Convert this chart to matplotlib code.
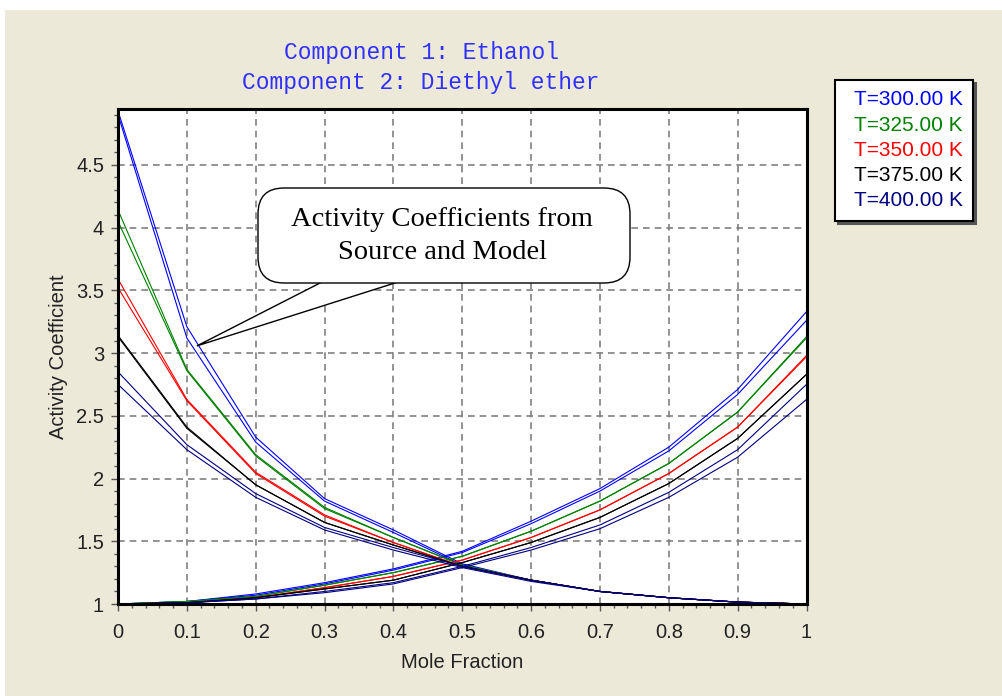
import matplotlib
matplotlib.use("Agg")
import matplotlib.pyplot as plt
from matplotlib.patches import Rectangle, FancyBboxPatch, Polygon
from matplotlib.transforms import IdentityTransform
from matplotlib.ticker import MultipleLocator

# ---------------- data ----------------
x = [0.0, 0.1, 0.2, 0.3, 0.4, 0.5, 0.6, 0.7, 0.8, 0.9, 1.0]
temps = ["T=300.00 K", "T=325.00 K", "T=350.00 K", "T=375.00 K", "T=400.00 K"]
colors = ["#0000ff", "#008000", "#ff0000", "#000000", "#000080"]

# gamma1 (component 1), source data
g1_src = [
    [4.93, 3.21, 2.33, 1.84, 1.59, 1.32, 1.19, 1.10, 1.05, 1.015, 1.0],
    [4.14, 2.87, 2.19, 1.77, 1.53, 1.31, 1.19, 1.10, 1.05, 1.015, 1.0],
    [3.59, 2.63, 2.05, 1.71, 1.49, 1.30, 1.19, 1.10, 1.05, 1.015, 1.0],
    [3.14, 2.41, 1.95, 1.65, 1.47, 1.30, 1.19, 1.10, 1.05, 1.015, 1.0],
    [2.85, 2.27, 1.88, 1.61, 1.45, 1.30, 1.19, 1.10, 1.05, 1.015, 1.0],
]
# gamma1, model
g1_mdl = [
    [4.90, 3.12, 2.29, 1.82, 1.57, 1.31, 1.19, 1.10, 1.05, 1.015, 1.0],
    [4.05, 2.86, 2.18, 1.76, 1.53, 1.31, 1.19, 1.10, 1.05, 1.015, 1.0],
    [3.52, 2.62, 2.04, 1.70, 1.49, 1.30, 1.19, 1.10, 1.05, 1.015, 1.0],
    [3.13, 2.40, 1.95, 1.65, 1.47, 1.30, 1.19, 1.10, 1.05, 1.015, 1.0],
    [2.75, 2.23, 1.85, 1.59, 1.43, 1.29, 1.18, 1.10, 1.05, 1.015, 1.0],
]
# gamma2 (component 2), source data
g2_src = [
    [1.0, 1.02, 1.08, 1.17, 1.28, 1.42, 1.66, 1.92, 2.25, 2.71, 3.33],
    [1.0, 1.02, 1.06, 1.15, 1.25, 1.38, 1.58, 1.82, 2.12, 2.53, 3.13],
    [1.0, 1.01, 1.05, 1.13, 1.22, 1.35, 1.53, 1.75, 2.04, 2.41, 2.98],
    [1.0, 1.01, 1.05, 1.12, 1.19, 1.33, 1.49, 1.69, 1.96, 2.32, 2.83],
    [1.0, 1.01, 1.04, 1.10, 1.17, 1.30, 1.45, 1.63, 1.89, 2.23, 2.75],
]
# gamma2, model
g2_mdl = [
    [1.0, 1.02, 1.07, 1.16, 1.27, 1.41, 1.64, 1.90, 2.22, 2.67, 3.26],
    [1.0, 1.02, 1.06, 1.15, 1.25, 1.38, 1.58, 1.82, 2.12, 2.53, 3.12],
    [1.0, 1.01, 1.05, 1.13, 1.22, 1.35, 1.53, 1.75, 2.04, 2.41, 2.97],
    [1.0, 1.01, 1.05, 1.12, 1.19, 1.33, 1.49, 1.69, 1.96, 2.32, 2.83],
    [1.0, 1.01, 1.04, 1.09, 1.16, 1.29, 1.43, 1.60, 1.85, 2.17, 2.63],
]

xticks = [0.0, 0.1, 0.2, 0.3, 0.4, 0.5, 0.6, 0.7, 0.8, 0.9, 1.0]
xtick_labels = ["0", "0.1", "0.2", "0.3", "0.4", "0.5", "0.6", "0.7", "0.8", "0.9", "1"]
yticks = [1, 1.5, 2, 2.5, 3, 3.5, 4, 4.5]
ytick_labels = ["1", "1.5", "2", "2.5", "3", "3.5", "4", "4.5"]

title_lines = ["Component 1: Ethanol", "Component 2: Diethyl ether"]
callout_text = "Activity Coefficients from\nSource and Model"
callout_xy = (0.1146, 3.057)

# ---------------- figure ----------------
W, H = 1002, 696
BG = "#ECE9D8"
def fx(px):
    return px / W
def fy(py):
    return 1 - py / H

fig = plt.figure(figsize=(W / 100, H / 100), dpi=100, facecolor="white")
fig.patches.append(Rectangle((fx(5), 0), 1 - fx(5), fy(10), transform=fig.transFigure,
                             facecolor=BG, edgecolor="none", zorder=-10))

ax = fig.add_axes([fx(118), fy(604), fx(806.5) - fx(118), fy(109) - fy(604)])
ax.set_facecolor("white")

lines = []
for i in range(len(temps)):
    l, = ax.plot(x, g1_src[i], color=colors[i], lw=0.8, label=temps[i], zorder=3)
    ax.plot(x, g1_mdl[i], color=colors[i], lw=0.8, zorder=3)
    ax.plot(x, g2_src[i], color=colors[i], lw=0.8, zorder=3)
    ax.plot(x, g2_mdl[i], color=colors[i], lw=0.8, zorder=3)
    lines.append(l)

ax.set_xlim(0, 1)
ax.set_ylim(1, 4.945)
ax.set_xticks(xticks)
ax.set_xticklabels(xtick_labels)
ax.set_yticks(yticks)
ax.set_yticklabels(ytick_labels)
ax.xaxis.set_minor_locator(MultipleLocator(0.02))
ax.yaxis.set_minor_locator(MultipleLocator(0.1))

for lab in ax.get_xticklabels() + ax.get_yticklabels():
    lab.set_fontfamily("Liberation Sans")
    lab.set_fontsize(14.5)
    lab.set_color("#222222")
ax.tick_params(axis="both", which="major", direction="out", length=5, width=1, color="#555555")
ax.tick_params(axis="both", which="minor", direction="out", length=3, width=1, color="#555555")
ax.tick_params(axis="x", which="major", pad=9)
ax.tick_params(axis="y", which="major", pad=5)

ax.grid(True, which="major", color="#808080", linestyle=(0, (4, 3)), linewidth=1.2, zorder=1)
ax.set_axisbelow(True)
for s in ax.spines.values():
    s.set_linewidth(2.2)
    s.set_color("black")
    s.set_zorder(5)

ax.set_xlabel("Mole Fraction", fontfamily="Liberation Sans", fontsize=14.5, color="#222222")
ax.set_ylabel("Activity Coefficient", fontfamily="Liberation Sans", fontsize=14.5, color="#222222")
ax.xaxis.set_label_coords(0.5, -0.1)
ax.yaxis.set_label_coords(-0.073, 0.5)

# title
fig.text(fx(421), fy(53), title_lines[0], ha="center", va="center",
         family="Liberation Mono", fontsize=16.5, color="#3030ff")
fig.text(fx(421), fy(82), title_lines[1], ha="center", va="center",
         family="Liberation Mono", fontsize=16.5, color="#3030ff")

# legend
leg = fig.legend(handles=lines, labels=temps, loc="upper left",
                 bbox_to_anchor=(fx(835), fy(80)), borderaxespad=0,
                 handlelength=0, handletextpad=0.4, fancybox=False,
                 edgecolor="black", facecolor="white", framealpha=1,
                 prop=dict(family="Liberation Sans", size=15),
                 labelspacing=0.3, borderpad=0.5,
                 shadow={"color": "#555555", "alpha": 1})
leg.get_frame().set_linewidth(1.5)
for h in leg.legend_handles:
    h.set_visible(False)
for t, c in zip(leg.get_texts(), colors):
    t.set_color(c)

# callout
fig.canvas.draw()
tip = ax.transData.transform(callout_xy)
ident = IdentityTransform()
bx0, bx1, by0, by1 = 258, 630, 188, 283
box = FancyBboxPatch((bx0, H - by1), bx1 - bx0, by1 - by0,
                     boxstyle="round,pad=0,rounding_size=26",
                     transform=ident, facecolor="white", edgecolor="black",
                     linewidth=1.0, zorder=20)
tail = Polygon([(322, H - by1 + 1), (tip[0], tip[1]), (398, H - by1 + 1)],
               closed=False, transform=ident, facecolor="white", edgecolor="black",
               linewidth=1.0, zorder=19)
fig.patches.append(tail)
fig.patches.append(box)
fig.text(fx(442), fy(236), callout_text, ha="center", va="center",
         family="Liberation Serif", fontsize=20.5, linespacing=1.45,
         color="black", zorder=21)

fig.savefig("out.png", dpi=100, facecolor=fig.get_facecolor())
